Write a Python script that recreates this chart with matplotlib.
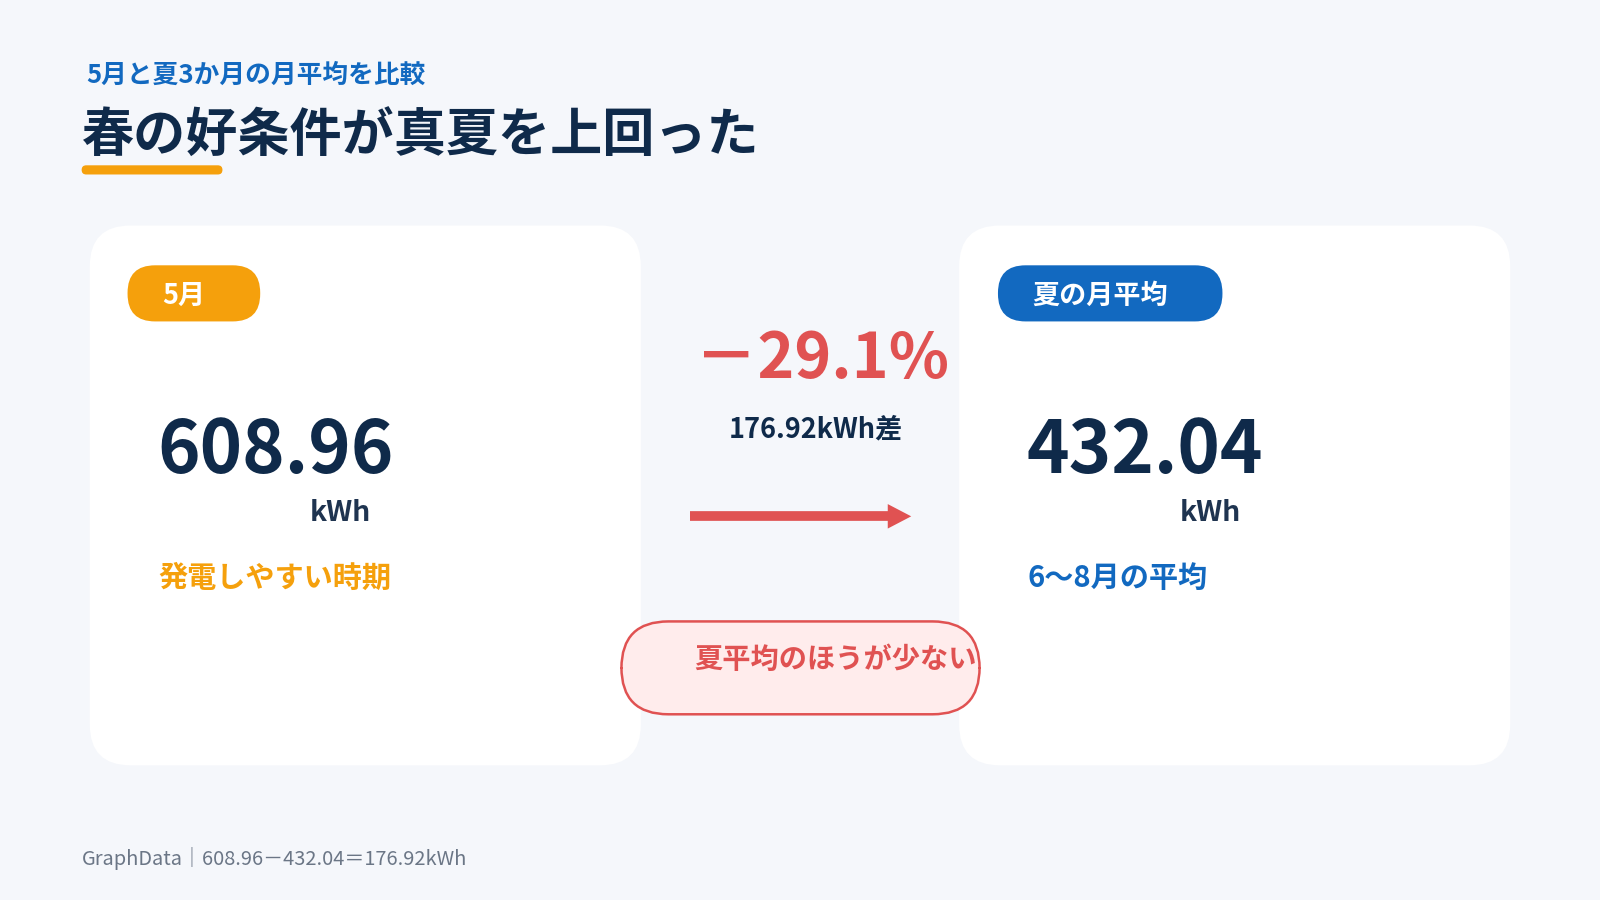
import matplotlib.pyplot as plt
from matplotlib.patches import FancyBboxPatch

plt.rcParams['font.family'] = ['Noto Sans CJK JP', 'DejaVu Sans']

# data
may_value = 608.96
summer_avg = 432.04
diff = round(may_value - summer_avg, 2)
pct = diff / may_value * 100
labels = ['5月', '夏の月平均']
notes = ['発電しやすい時期', '6〜8月の平均']

navy = '#0f2a4a'
blue = '#1269c0'
orange = '#f5a00c'
red = '#e05252'

fig = plt.figure(figsize=(16, 9), dpi=100)
fig.patch.set_facecolor('#f5f7fb')
ax = fig.add_axes([0, 0, 1, 1])
ax.set_xlim(0, 1568)
ax.set_ylim(882, 0)
ax.axis('off')

def rbox(x0, y0, x1, y1, r, fc, ec='none', lw=0):
    ax.add_patch(FancyBboxPatch((x0, y0), x1 - x0, y1 - y0,
                                boxstyle=f'round,pad=0,rounding_size={r}',
                                fc=fc, ec=ec, lw=lw))

ax.text(85, 74, '5月と夏3か月の月平均を比較', color=blue, fontsize=18.5,
        fontweight='bold', va='center')
ax.text(80, 134, '春の好条件が真夏を上回った', color=navy, fontsize=37.5,
        fontweight='bold', va='center')
rbox(80, 162, 218, 171, 4.5, orange)

cards = [(88, 628), (940, 1480)]
pills = [(125, 255, orange), (978, 1198, blue)]
colors = [orange, blue]
vals = [may_value, summer_avg]
for i in range(2):
    x0, x1 = cards[i]
    rbox(x0, 221, x1, 750, 40, 'white')
    p0, p1, pc = pills[i]
    rbox(p0, 260, p1, 315, 27, pc)
    ax.text(p0 + 34, 290, labels[i], color='white', fontsize=19.5,
            fontweight='bold', va='center')
    ax.text(x0 + 66, 443, f'{vals[i]:.2f}', color=navy, fontsize=52,
            fontweight='bold', va='center')
    ax.text(x0 + 246, 503, 'kWh', color='#1f3450', fontsize=20.5,
            fontweight='bold', va='center', ha='center')
    ax.text(x0 + 67, 566, notes[i], color=colors[i], fontsize=21,
            fontweight='bold', va='center')

ax.text(806, 352, f'－{pct:.1f}%', color=red, fontsize=45,
        fontweight='bold', va='center', ha='center')
ax.text(800, 421, f'{diff:.2f}kWh差', color=navy, fontsize=19.5,
        fontweight='bold', va='center', ha='center')
ax.plot([676, 872], [506, 506], color=red, lw=7, solid_capstyle='butt')
ax.fill([870, 893, 870], [494, 506, 518], color=red, lw=0)

rbox(609, 609, 960, 700, 46, '#ffecec', ec=red, lw=1.8)
ax.text(680, 647, '夏平均のほうが少ない', color=red, fontsize=20.3,
        fontweight='bold', va='center')

ax.text(80, 841, f'GraphData｜{may_value:.2f}－{summer_avg:.2f}＝{diff:.2f}kWh',
        color='#6b7686', fontsize=14.4, va='center')

fig.savefig('out.png', dpi=100, facecolor=fig.get_facecolor())
